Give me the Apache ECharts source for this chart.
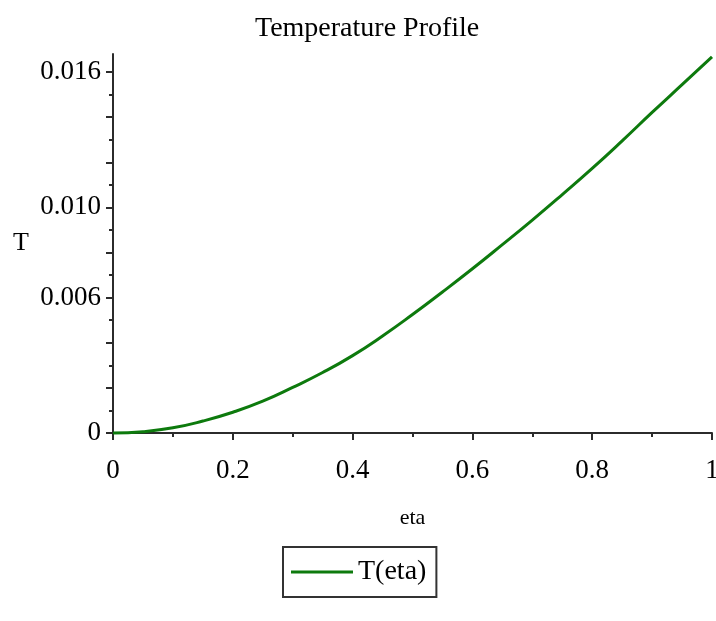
<!DOCTYPE html>
<html>
<head>
<meta charset="utf-8">
<script src="https://cdn.jsdelivr.net/npm/echarts@6/dist/echarts.min.js"></script>
<style>
  html, body { margin: 0; padding: 0; background: #fff; }
  #chart { width: 716px; height: 621px; }
</style>
</head>
<body>
<div id="chart"></div>
<script>
// Temperature profile T(eta) sampled along eta
const etaValues = [0, 0.05, 0.1, 0.15, 0.2, 0.25, 0.3, 0.35, 0.4, 0.45, 0.5, 0.55, 0.6, 0.65, 0.7, 0.75, 0.8, 0.85, 0.9, 0.95, 1.0];
const tValues = [0, 0.00006, 0.00023, 0.00053, 0.00092, 0.00141, 0.00202, 0.00268, 0.00343, 0.0043, 0.00525, 0.00625, 0.00728, 0.00835, 0.00944, 0.01057, 0.01173, 0.01295, 0.01421, 0.01544, 0.01667];

// Axis tick positions and the labels shown on them
const xTickLabels = [0, 0.2, 0.4, 0.6, 0.8, 1];
const yLabelValues = [0, 0.006, 0.010, 0.016];
const yMajorTicks = [0, 0.002, 0.004, 0.006, 0.008, 0.010, 0.012, 0.014, 0.016];
const yMinorTicks = [0.001, 0.003, 0.005, 0.007, 0.009, 0.011, 0.013, 0.015];

const seriesName = 'T(eta)';
const titleText = 'Temperature Profile';

const points = etaValues.map((e, i) => [e, tValues[i]]);

const serif = '"Liberation Serif", "Times New Roman", serif';
const axisColor = '#2b2b2b';
const lineColor = '#0d7a0d';
const Y_MAX = 0.0168;

const chart = echarts.init(document.getElementById('chart'), null, { renderer: 'canvas' });

chart.setOption({
  backgroundColor: '#ffffff',
  animation: false,
  title: {
    text: titleText,
    left: 250,
    top: 10,
    textStyle: { fontFamily: serif, fontSize: 28, fontWeight: 'normal', color: '#000' }
  },
  legend: {
    data: [{ name: seriesName, icon: 'rect' }],
    left: 283,
    top: 547,
    padding: [11, 10, 11, 8],
    itemWidth: 62,
    itemHeight: 3,
    itemGap: 0,
    borderColor: '#333',
    borderWidth: 2,
    borderRadius: 0,
    itemStyle: { color: lineColor },
    textStyle: { fontFamily: serif, fontSize: 28, color: '#000' }
  },
  grid: { left: 113, right: 4, top: 54, bottom: 188, containLabel: false, outerBoundsMode: 'none' },
  xAxis: {
    type: 'value',
    min: 0,
    max: 1,
    interval: 0.2,
    name: 'eta',
    nameLocation: 'middle',
    nameGap: 74,
    nameTextStyle: { fontFamily: serif, fontSize: 22, color: '#000' },
    axisLine: { onZero: false, lineStyle: { color: axisColor, width: 2 } },
    axisTick: { length: 7, lineStyle: { color: axisColor, width: 2 } },
    minorTick: { show: true, splitNumber: 2, length: 4, lineStyle: { color: axisColor, width: 2 } },
    splitLine: { show: false },
    axisLabel: {
      customValues: xTickLabels,
      margin: 24,
      fontFamily: serif,
      fontSize: 27,
      color: '#000',
      formatter: v => String(v)
    }
  },
  yAxis: [
    {
      type: 'value',
      min: 0,
      max: Y_MAX,
      name: 'T',
      nameLocation: 'middle',
      nameRotate: 0,
      nameGap: 84,
      nameTextStyle: { fontFamily: serif, fontSize: 26, color: '#000' },
      axisLine: { show: true, lineStyle: { color: axisColor, width: 2 } },
      axisTick: { show: true, customValues: yMajorTicks, length: 7, lineStyle: { color: axisColor, width: 2 } },
      splitLine: { show: false },
      axisLabel: {
        customValues: yLabelValues,
        margin: 12,
        fontFamily: serif,
        fontSize: 27,
        color: '#000',
        formatter: v => (v === 0 ? '0' : v.toFixed(3))
      }
    },
    {
      type: 'value',
      min: 0,
      max: Y_MAX,
      position: 'left',
      axisLine: { show: false },
      axisTick: { show: true, customValues: yMinorTicks, length: 4, lineStyle: { color: axisColor, width: 2 } },
      axisLabel: { show: false },
      splitLine: { show: false }
    }
  ],
  series: [
    {
      name: seriesName,
      type: 'line',
      data: points,
      smooth: true,
      symbol: 'none',
      clip: false,
      lineStyle: { color: lineColor, width: 3 },
      itemStyle: { color: lineColor }
    }
  ]
});
</script>
</body>
</html>
